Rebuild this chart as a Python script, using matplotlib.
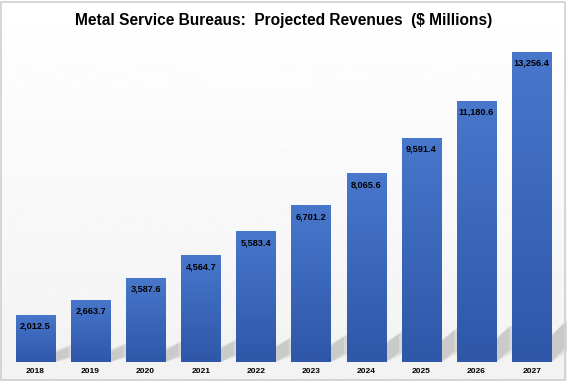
import numpy as np
import matplotlib.pyplot as plt
from matplotlib.patches import Polygon
from matplotlib.colors import LinearSegmentedColormap

# data
years = ["2018", "2019", "2020", "2021", "2022", "2023", "2024", "2025", "2026", "2027"]
revenues = [2012.5, 2663.7, 3587.6, 4564.7, 5583.4, 6701.2, 8065.6, 9591.4, 11180.6, 13256.4]

plt.rcParams['font.family'] = ['Liberation Sans', 'DejaVu Sans']

fig = plt.figure(figsize=(5.67, 3.81), dpi=100)

# light background with a soft gradient and thin border
bg = fig.add_axes([0, 0, 1, 1], zorder=-5)
grad = np.linspace(1.0, 0.95, 256).reshape(-1, 1)
bg.imshow(grad, cmap="gray", vmin=0, vmax=1, aspect="auto", extent=[0, 1, 0, 1])
bg.set_xlim(0, 1)
bg.set_ylim(0, 1)
bg.axis("off")
fig.patches.append(plt.Rectangle((0.002, 0.003), 0.995, 0.993, transform=fig.transFigure,
                                 fill=False, edgecolor="#d0d0d0", linewidth=1.2))

ax = fig.add_axes([0, 19 / 381, 1, 322 / 381])
ax.patch.set_alpha(0)
x = np.arange(len(years))
ax.set_xlim(-0.64, 9.64)
ymax = revenues[-1] * 322 / 310
ax.set_ylim(0, ymax)

width = 0.71

# soft shadows falling to the right of each bar
for xi, v in zip(x, revenues):
    xr = xi + width / 2
    h = 430 + 0.1 * v
    for k, a in enumerate([0.22, 0.16, 0.1, 0.06]):
        d = 0.07 * k
        shadow = Polygon([(xr, 0), (xr, h * 0.6 + d * 800),
                          (xr + 0.24 + d, h + d * 1200), (xr + 0.24 + d, h * 0.35)],
                         closed=True, facecolor="#9a9a9a", edgecolor="none", alpha=a, zorder=1)
        ax.add_patch(shadow)

bars = ax.bar(x, revenues, width=width, color="#3d68bd", edgecolor="none", zorder=2)

# vertical gradient inside each bar
cgrad = np.linspace(0, 1, 256).reshape(-1, 1)
cmap = LinearSegmentedColormap.from_list("b", ["#2e57a8", "#4877cc"])
for b in bars:
    im = ax.imshow(cgrad, cmap=cmap, aspect="auto", origin="lower",
                   extent=[b.get_x(), b.get_x() + b.get_width(), 0, b.get_height()], zorder=3)
    im.set_clip_path(b)

for xi, v in zip(x, revenues):
    ax.text(xi, v - ymax * 0.035, f"{v:,.1f}", ha="center", va="center",
            fontsize=6.6, fontweight="bold", color="black", zorder=4)

ax.set_xticks(x)
ax.set_xticklabels(years, fontsize=6, fontweight="bold")
ax.tick_params(axis="x", length=0, pad=4)
ax.set_yticks([])
for s in ax.spines.values():
    s.set_visible(False)

fig.text(0.5, 1 - 21 / 381, "Metal Service Bureaus:  Projected Revenues  ($ Millions)",
         ha="center", va="center", fontsize=11.2, fontweight="bold")

fig.savefig("out.png", dpi=100)
